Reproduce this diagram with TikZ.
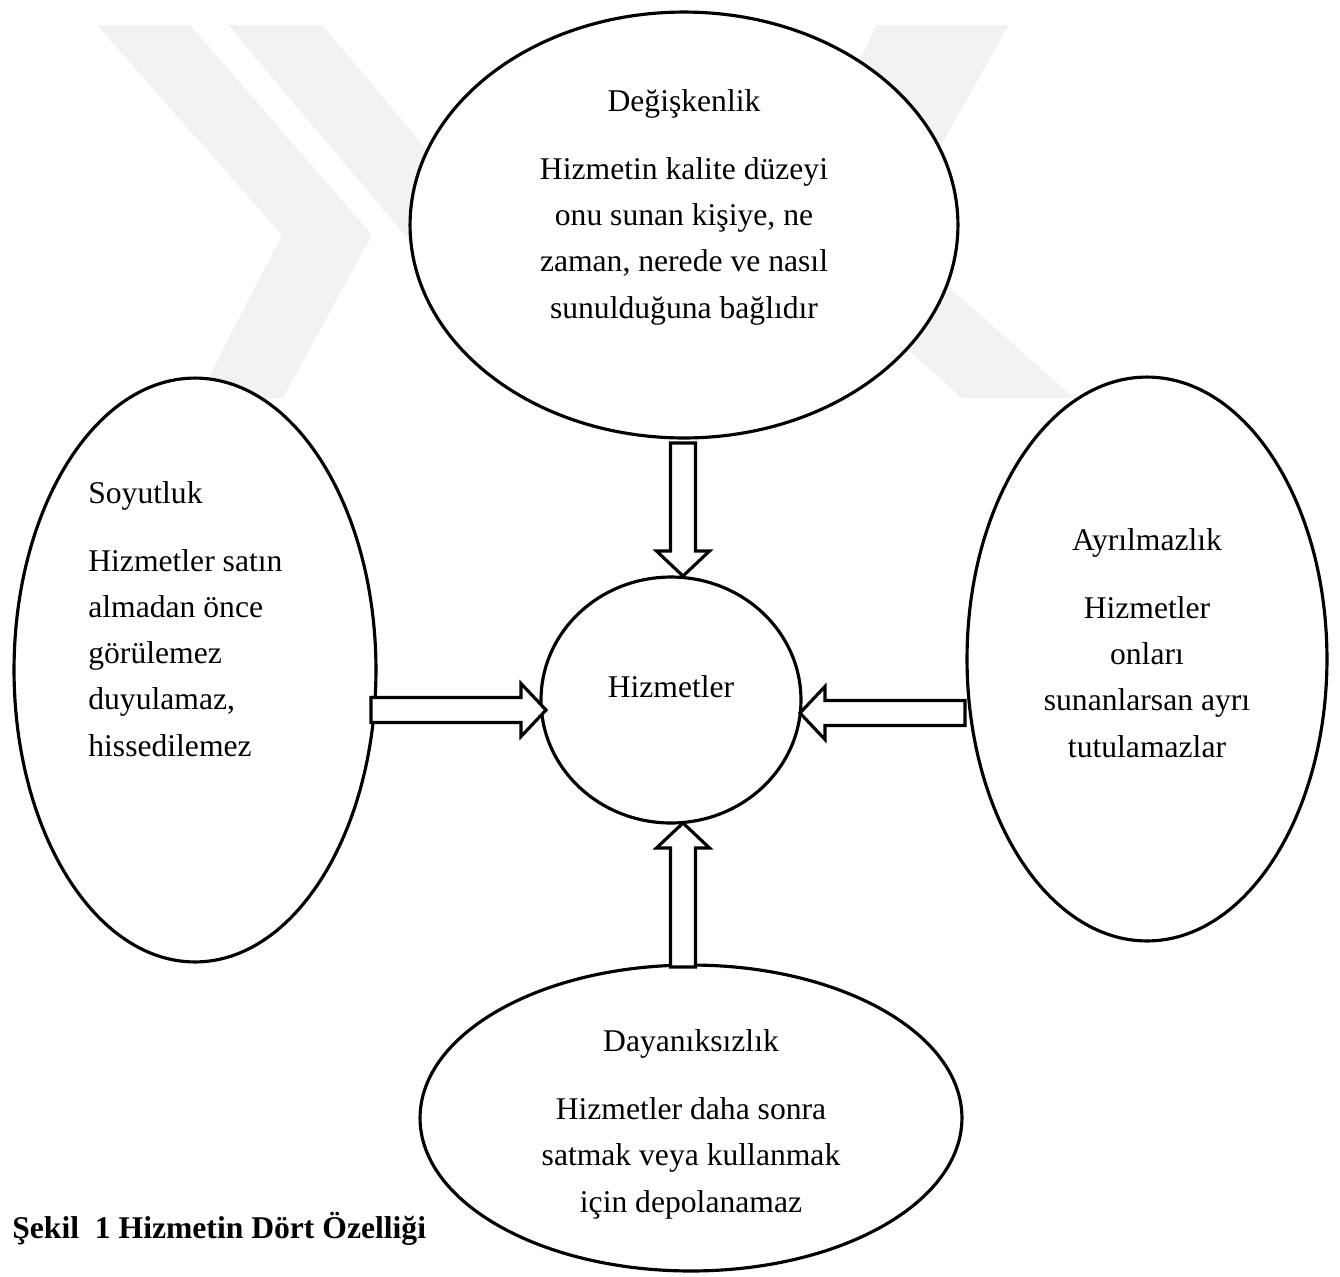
\documentclass[tikz,border=0pt]{standalone}
\usepackage{fontspec}
\setmainfont{Liberation Serif}
\usetikzlibrary{shapes.geometric,calc}

\newcommand{\hollowarrow}[2]{%
	\coordinate (hb) at ($(#2)!0.5cm!(#1)$);
	\draw[blockline] ($(#1)!0.25cm!90:(#2)$) -- ($(hb)!0.25cm!-90:(#1)$)
		-- ($(hb)!0.53cm!-90:(#1)$) -- (#2) -- ($(hb)!0.53cm!90:(#1)$)
		-- ($(hb)!0.25cm!90:(#1)$) -- ($(#1)!0.25cm!-90:(#2)$) -- cycle;}

\begin{document}
\begin{tikzpicture}[x=0.02cm,y=-0.02cm,
	oval/.style={ellipse,draw,line width=1.8pt,fill=white,inner sep=0pt,outer sep=0pt},
	lbl/.style={font=\fontsize{18}{26.2}\selectfont,inner sep=0pt,anchor=base},
	blockline/.style={draw,line width=1.8pt,line join=miter,fill=white},
	wmark/.style={fill=black!5}]
	\useasboundingbox (0,0) rectangle (1340,1276);
	
	\fill[wmark] (97,25) -- (190,25) -- (372,235) -- (283,398) -- (198,398) -- (282,235) -- cycle;
	\fill[wmark] (228,25) -- (322,25) -- (524,265) -- (430,265) -- cycle;
	\fill[wmark] (876,25) -- (1009,25) -- (890,235) -- (1074,398) -- (962,398) -- (780,235) -- cycle;
	
	\node[oval,minimum width=10.96cm,minimum height=8.52cm] (deg) at (684,225) {};
	\node[oval,minimum width=7.24cm,minimum height=11.68cm] (soy) at (195,670) {};
	\node[oval,minimum width=7.2cm,minimum height=11.28cm] (ayr) at (1147,659) {};
	\node[oval,minimum width=10.84cm,minimum height=6.12cm] (day) at (691,1118) {};
	\node[oval,minimum width=5.2cm,minimum height=4.92cm] (hub) at (671,700) {};
	
	\node[lbl,align=center] (degtxt) at (684,318) {Değişkenlik\\[12.5pt] Hizmetin kalite düzeyi\\ onu sunan kişiye, ne\\ zaman, nerede ve nasıl\\ sunulduğuna bağlıdır};
	\node[lbl,align=left,anchor=base west] (soytxt) at (88,756) {Soyutluk\\[12.5pt] Hizmetler satın\\ almadan önce\\ görülemez\\ duyulamaz,\\ hissedilemez};
	\node[lbl,align=center] (ayrtxt) at (1147,757) {Ayrılmazlık\\[12.5pt] Hizmetler\\ onları\\ sunanlarsan ayrı\\ tutulamazlar};
	\node[lbl,align=center] (daytxt) at (691,1212) {Dayanıksızlık\\[12.5pt] Hizmetler daha sonra\\ satmak veya kullanmak\\ için depolanamaz};
	\node[lbl] (hubtxt) at (671,697) {Hizmetler};
	
	\coordinate (a1) at ($(deg.south)+(-1,5)$);
	\coordinate (b1) at ($(hub.north)+(12,-1)$);
	\coordinate (a2) at ($(soy.east)+(-5,40)$);
	\coordinate (b2) at ($(hub.west)+(5,10)$);
	\coordinate (a3) at ($(ayr.west)+(-2,54)$);
	\coordinate (b3) at ($(hub.east)+(-1,13)$);
	\coordinate (a4) at ($(day.north)+(-8,2)$);
	\coordinate (b4) at ($(hub.south)+(12,0)$);
	
	\hollowarrow{a1}{b1}
	\hollowarrow{a2}{b2}
	\hollowarrow{a3}{b3}
	\hollowarrow{a4}{b4}
	
	\node[lbl,anchor=base west,font=\fontsize{18}{26.2}\selectfont\bfseries] (cap) at (12,1238) {Şekil\ \ 1 Hizmetin Dört Özelliği};
\end{tikzpicture}
\end{document}
